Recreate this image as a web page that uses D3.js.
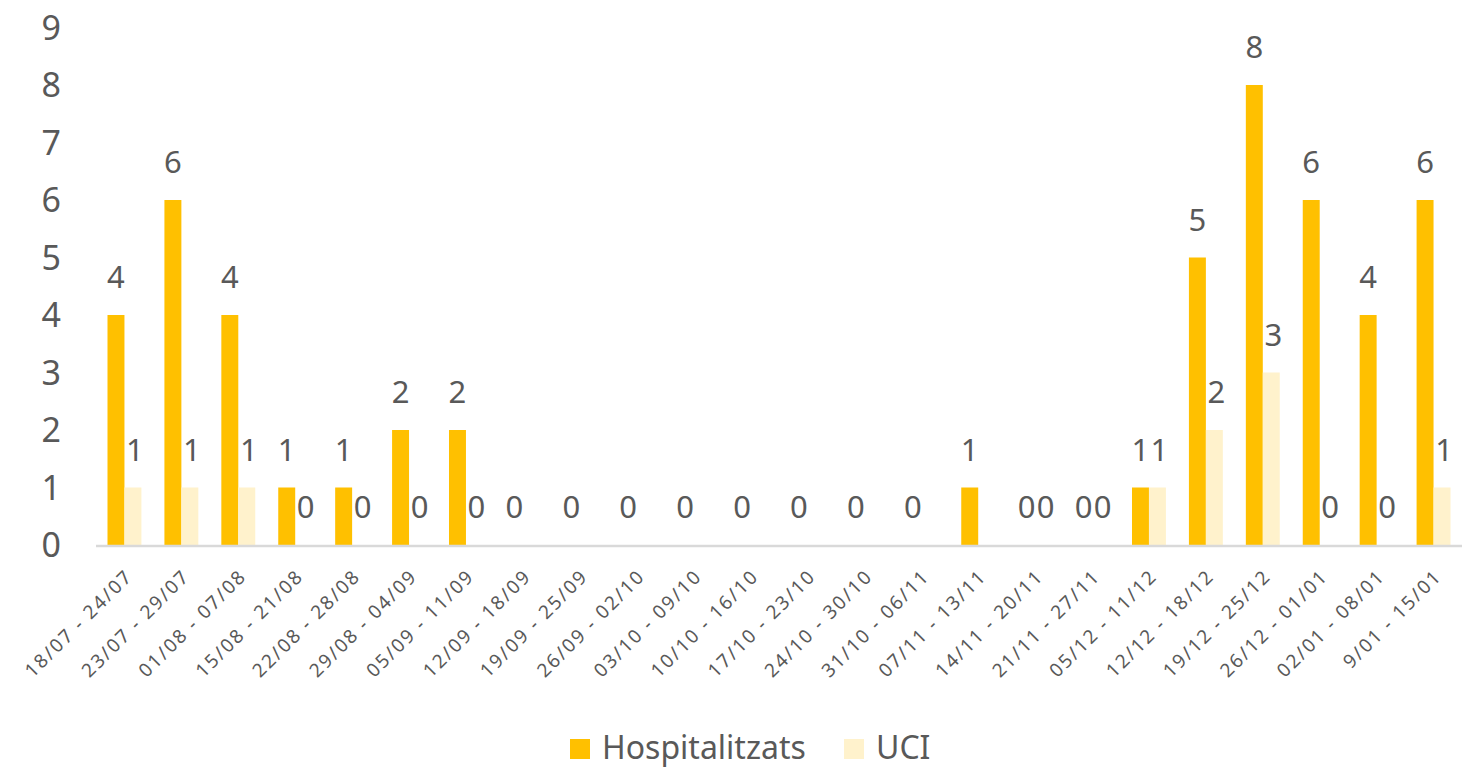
<!DOCTYPE html>
<html>
<head>
<meta charset="utf-8">
<script src="https://cdn.jsdelivr.net/npm/d3@7"></script>
<style>
  body { margin: 0; background: #fff; }
  svg text { font-family: "Noto Sans", "Open Sans", sans-serif; fill: #595959; }
</style>
</head>
<body>
<div id="chart"></div>
<script>
// categories (setmanes)
var weeks = ["18/07 - 24/07", "23/07 - 29/07", "01/08 - 07/08", "15/08 - 21/08", "22/08 - 28/08",
  "29/08 - 04/09", "05/09 - 11/09", "12/09 - 18/09", "19/09 - 25/09", "26/09 - 02/10",
  "03/10 - 09/10", "10/10 - 16/10", "17/10 - 23/10", "24/10 - 30/10", "31/10 - 06/11",
  "07/11 - 13/11", "14/11 - 20/11", "21/11 - 27/11", "05/12 - 11/12", "12/12 - 18/12",
  "19/12 - 25/12", "26/12 - 01/01", "02/01 - 08/01", "9/01 - 15/01"]
var hospitalitzats = [4, 6, 4, 1, 1, 2, 2, 0, 0, 0, 0, 0, 0, 0, 0, 1, 0, 0, 1, 5, 8, 6, 4, 6]
var uci = [1, 1, 1, 0, 0, 0, 0, null, null, null, null, null, null, null, null, null, 0, 0, 1, 2, 3, 0, 0, 1]
var yTicks = [0, 1, 2, 3, 4, 5, 6, 7, 8, 9]
var seriesNames = ["Hospitalitzats", "UCI"]

var hospColour = '#FFC000'
var uciColour = '#FFF2CC'
var axisColour = '#D9D9D9'

var width = 1478
var height = 767

var svg = d3.select("#chart").append("svg")
  .attr("width", width)
  .attr("height", height)

var x = d3.scaleBand().domain(weeks).range([96, 1462]).padding(0)
var xs = d3.scaleBand().domain(seriesNames).range([11.5, x.bandwidth() - 11.5]).padding(0)
var y = d3.scaleLinear().domain([0, 9]).range([545, 27.5])
var colour = d3.scaleOrdinal().domain(seriesNames).range([hospColour, uciColour])

var rows = weeks.map(function (w, i) {
  return { week: w, values: [
    { key: "Hospitalitzats", value: hospitalitzats[i] },
    { key: "UCI", value: uci[i] }
  ] }
})

// y axis labels only
svg.append("g").selectAll("text")
  .data(yTicks)
  .enter().append("text")
  .attr("x", 61)
  .attr("y", function (d) { return y(d) })
  .attr("dy", "0.36em")
  .attr("text-anchor", "end")
  .style("font-size", "34px")
  .text(function (d) { return d })

// bars
var groups = svg.append("g").selectAll("g")
  .data(rows)
  .enter().append("g")
  .attr("transform", function (d) { return "translate(" + x(d.week) + ",0)" })

groups.selectAll("rect")
  .data(function (d) { return d.values.filter(function (v) { return v.value != null }) })
  .enter().append("rect")
  .attr("x", function (d) { return xs(d.key) })
  .attr("width", xs.bandwidth())
  .attr("y", function (d) { return y(d.value) })
  .attr("height", function (d) { return y(0) - y(d.value) })
  .attr("fill", function (d) { return colour(d.key) })

groups.selectAll("text")
  .data(function (d) { return d.values.filter(function (v) { return v.value != null }) })
  .enter().append("text")
  .attr("x", function (d) { return xs(d.key) + xs.bandwidth() / 2 + (d.key === "UCI" ? 2 : 0) })
  .attr("y", function (d) { return y(d.value) - 27 })
  .attr("text-anchor", "middle")
  .style("font-size", "31px")
  .text(function (d) { return d.value })

// x axis baseline
svg.append("line")
  .attr("x1", 96).attr("x2", 1462)
  .attr("y1", y(0) + 1).attr("y2", y(0) + 1)
  .attr("stroke", axisColour)
  .attr("stroke-width", 2.5)

// x labels, rotated
svg.append("g").selectAll("text")
  .data(weeks)
  .enter().append("text")
  .attr("transform", function (d) {
    return "translate(" + (x(d) + x.bandwidth() / 2) + "," + 568 + ") rotate(-45)"
  })
  .attr("text-anchor", "end")
  .attr("dy", "0.7em")
  .style("font-size", "19px")
  .style("letter-spacing", "2px")
  .text(function (d) { return d })

// legend
var legend = svg.append("g")
var legendItems = [
  { name: "Hospitalitzats", x: 570, tx: 602 },
  { name: "UCI", x: 844, tx: 876 }
]
legend.selectAll("rect")
  .data(legendItems)
  .enter().append("rect")
  .attr("x", function (d) { return d.x })
  .attr("y", 739)
  .attr("width", 20).attr("height", 20)
  .attr("fill", function (d) { return colour(d.name) })
legend.selectAll("text")
  .data(legendItems)
  .enter().append("text")
  .attr("x", function (d) { return d.tx })
  .attr("y", 759)
  .style("font-size", "32px")
  .text(function (d) { return d.name })
</script>
</body>
</html>
